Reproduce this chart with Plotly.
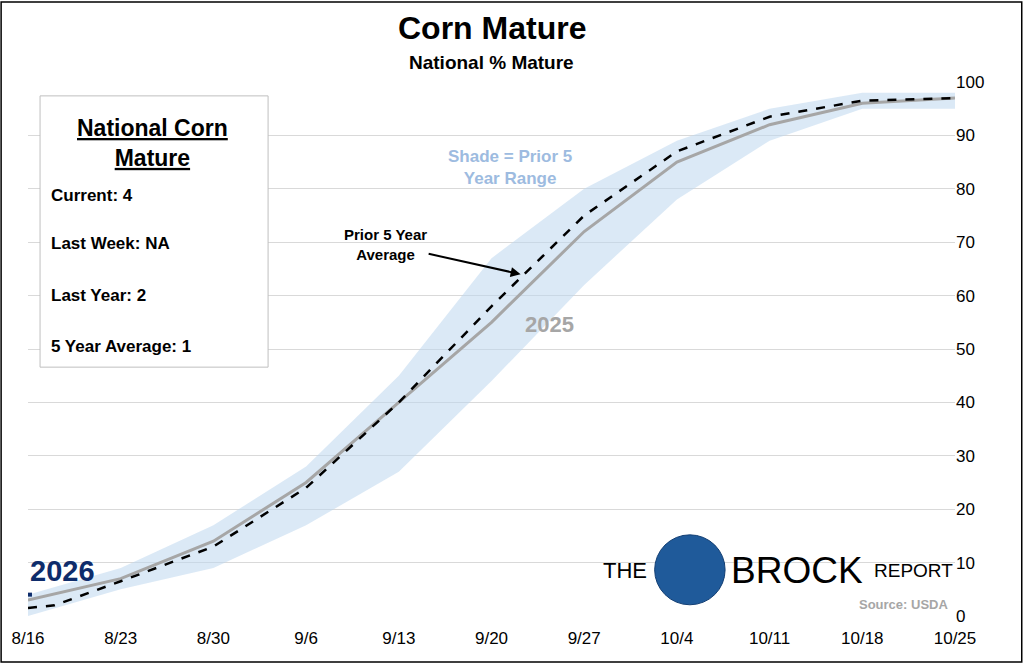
import plotly.graph_objects as go

tick_days = [0, 7, 14, 21, 28, 35, 42, 49, 56, 63, 70]
tick_labels = ["8/16", "8/23", "8/30", "9/6", "9/13", "9/20", "9/27", "10/4", "10/11", "10/18", "10/25"]

days_2025 = [0, 7, 14, 21, 28, 35, 42, 49, 56, 63, 70]
val_2025 = [3, 7, 14, 25, 40, 55, 72, 85, 92, 96, 97]

days_avg = [0, 2, 7, 14, 21, 28, 35, 42, 49, 56, 63, 70]
val_avg = [1.5, 2, 6.5, 13, 24, 40, 58, 75, 87, 93.5, 96.5, 97]

days_band = [0, 7, 14, 21, 28, 35, 42, 49, 56, 63, 70]
band_low = [0, 5, 9, 17, 27, 44, 62, 78, 89, 95, 95]
band_high = [4, 9, 17, 28, 45, 67, 80, 89, 95, 98, 98]

days_2026 = [0, 0.3]
val_2026 = [4, 4]

fig = go.Figure()
fig.add_trace(go.Scatter(x=days_band, y=band_high, mode="lines", line=dict(width=0), showlegend=False, hoverinfo="skip"))
fig.add_trace(go.Scatter(x=days_band, y=band_low, mode="lines", line=dict(width=0), fill="tonexty",
                         fillcolor="rgba(189,215,238,0.55)", showlegend=False))
fig.add_trace(go.Scatter(x=days_2025, y=val_2025, mode="lines", line=dict(color="#a6a6a6", width=3), showlegend=False))
fig.add_trace(go.Scatter(x=days_avg, y=val_avg, mode="lines", line=dict(color="black", width=2.5, dash="dash"), showlegend=False))
fig.add_trace(go.Scatter(x=days_2026, y=val_2026, mode="lines", line=dict(color="#0e2c6b", width=4), showlegend=False))

A = "Liberation Sans, Arial, sans-serif"


def pa(text, x, y, size, color="black", xanchor="center"):
    return dict(text=text, x=x, y=y, xref="paper", yref="paper", showarrow=False, xanchor=xanchor,
                yanchor="middle", align="center", font=dict(size=size, family=A, color=color))


fig.update_layout(
    width=1024, height=664, paper_bgcolor="white", plot_bgcolor="white",
    margin=dict(l=28, r=69, t=82, b=48, autoexpand=False),
    font=dict(family=A, color="black"),
    xaxis=dict(range=[0, 70], tickvals=tick_days, ticktext=tick_labels, showgrid=False, zeroline=False,
               tickfont=dict(size=17, family=A), showline=False, ticks="", ticklabelstandoff=10),
    yaxis=dict(range=[0, 100], side="right", dtick=10, showgrid=True, gridcolor="#d9d9d9", zeroline=False,
               tickfont=dict(size=17, family=A), ticks="", showline=False),
    shapes=[
        dict(type="rect", xref="paper", yref="paper", x0=-0.029, x1=1.072, y0=-0.086, y1=1.15,
             line=dict(color="black", width=1.5)),
        dict(type="rect", xref="paper", yref="paper", x0=0.013, x1=0.259, y0=0.466, y1=0.974,
             line=dict(color="#bfbfbf", width=1), fillcolor="white"),
        dict(type="circle", xref="paper", yref="paper", x0=0.676, x1=0.752, y0=0.021, y1=0.152,
             fillcolor="#1f5a9a", line=dict(color="#123e73", width=1)),
    ],
    annotations=[
        pa("<b>Corn Mature</b>", 0.5, 1.101, 32),
        pa("<b>National % Mature</b>", 0.5, 1.036, 19),
        pa("<b><u>National Corn</u><br><u>Mature</u></b>", 0.134, 0.886, 23),
        pa("<b>Current: 4</b>", 0.023, 0.788, 17, xanchor="left"),
        pa("<b>Last Week: NA</b>", 0.023, 0.697, 17, xanchor="left"),
        pa("<b>Last Year: 2</b>", 0.023, 0.601, 17, xanchor="left"),
        pa("<b>5 Year Average: 1</b>", 0.023, 0.504, 17, xanchor="left"),
        dict(text="<b>Shade = Prior 5<br>Year Range</b>", x=36.4, y=84, showarrow=False, font=dict(size=17, color="#9dbbe0")),
        dict(text="<b>Prior 5 Year<br>Average</b>", x=37.2, y=64, ax=-135, ay=-30, showarrow=True,
             arrowhead=2, arrowwidth=2, arrowcolor="black", font=dict(size=15)),
        dict(text="<b>2025</b>", x=39.4, y=54.5, showarrow=False, font=dict(size=22, color="#a6a6a6")),
        dict(text="<b>2026</b>", x=0, y=8.5, showarrow=False, xanchor="left", font=dict(size=29, color="#0e2c6b")),
        pa("THE", 0.644, 0.086, 22),
        pa("BROCK", 0.83, 0.086, 37),
        pa("REPORT", 0.955, 0.086, 19),
        pa("<b>Source: USDA</b>", 0.995, 0.022, 13, color="#a6a6a6", xanchor="right"),
    ],
)
fig.write_html("out.html", post_script="document.body.style.margin='0';", config={"displayModeBar": False})
